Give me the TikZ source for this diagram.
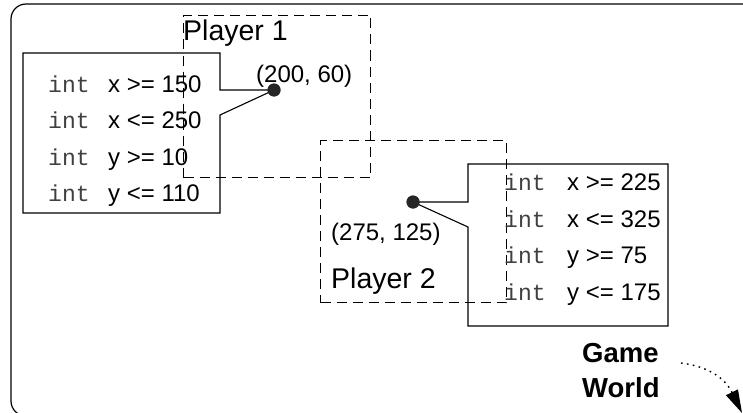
\documentclass[tikz,border=0pt]{standalone}
\usepackage{fontspec}
\setmainfont{Liberation Sans}
\newfontfamily\monofont{Liberation Mono}
\usetikzlibrary{arrows.meta}
\begin{document}
\begin{tikzpicture}[x=1pt,y=-1pt,
  frame/.style={draw=black,line width=1.2pt,rounded corners=15pt},
  callout/.style={draw=black,line width=1.1pt},
  dashbox/.style={draw=black,line width=1pt,dash pattern=on 10pt off 6pt,inner sep=0pt,anchor=north west},
  kw/.style={anchor=base west,inner sep=0pt,text=black!75,font=\monofont\fontsize{23}{28}\selectfont},
  expr/.style={anchor=base west,inner sep=0pt,font=\fontsize{24}{28}\selectfont},
  coord/.style={anchor=base west,inner sep=0pt,font=\fontsize{24}{28}\selectfont},
  plabel/.style={anchor=base west,inner sep=0pt,font=\fontsize{28.5}{32}\selectfont},
  glabel/.style={anchor=base west,inner sep=0pt,font=\bfseries\fontsize{27.5}{32}\selectfont},
  dot/.style={circle,fill=black!85,inner sep=0pt,minimum size=13pt},
  flow/.style={draw=black,line width=1.4pt,dash pattern=on 1.6pt off 4.4pt,-{Triangle[length=23pt,width=13pt]}}
]
\useasboundingbox (0,0) rectangle (743,412);
\begin{scope}
\clip (0,0) rectangle (743,412);
% outer frame
\draw[frame] (11,4) rectangle (760,416);

% dashed regions
\node[dashbox,minimum width=187pt,minimum height=162pt] (p1region) at (183,15) {};
\node[dashbox,minimum width=186pt,minimum height=162pt] (p2region) at (320,140) {};

% labels
\node[plabel] (p1lab) at (183,41) {Player 1};
\node[coord] (p1pos) at (256,82) {(200, 60)};
\node[coord] (p2pos) at (331,240) {(275, 125)};
\node[plabel] (p2lab) at (331,288) {Player 2};

% dots
\node[dot] (dot1) at (274,90) {};
\node[dot] (dot2) at (413,202) {};

% callout boxes
\draw[callout] (23,53) -- (220,53) -- (220,90) -- (dot1.center) -- (220,115) -- (220,213) -- (23,213) -- cycle;
\draw[callout] (468,164) -- (668,164) -- (668,326) -- (468,326) -- (468,227) -- (dot2.center) -- (468,202) -- cycle;
\node[dot] at (dot1.center) {};
\node[dot] at (dot2.center) {};

% left rows
\node[kw] (ak1) at (48,92) {int};  \node[expr] (ae1) at (108,92) {x >= 150};
\node[kw] (ak2) at (48,128) {int}; \node[expr] (ae2) at (108,128) {x <= 250};
\node[kw] (ak3) at (48,165) {int}; \node[expr] (ae3) at (108,165) {y >= 10};
\node[kw] (ak4) at (48,201) {int}; \node[expr] (ae4) at (108,201) {y <= 110};

% right rows
\node[kw] (bk1) at (504,190) {int}; \node[expr] (be1) at (567,190) {x >= 225};
\node[kw] (bk2) at (504,227) {int}; \node[expr] (be2) at (567,227) {x <= 325};
\node[kw] (bk3) at (504,263) {int}; \node[expr] (be3) at (567,263) {y >= 75};
\node[kw] (bk4) at (504,300) {int}; \node[expr] (be4) at (567,300) {y <= 175};

% game world
\node[glabel] (game) at (582,362) {Game};
\node[glabel] (world) at (582,397) {World};
\coordinate (arrS) at (681,363);
\coordinate (arrE) at (742,413);
\draw[flow] (arrS) .. controls (705,366) and (724,376) .. (arrE);
\end{scope}
\end{tikzpicture}
\end{document}
